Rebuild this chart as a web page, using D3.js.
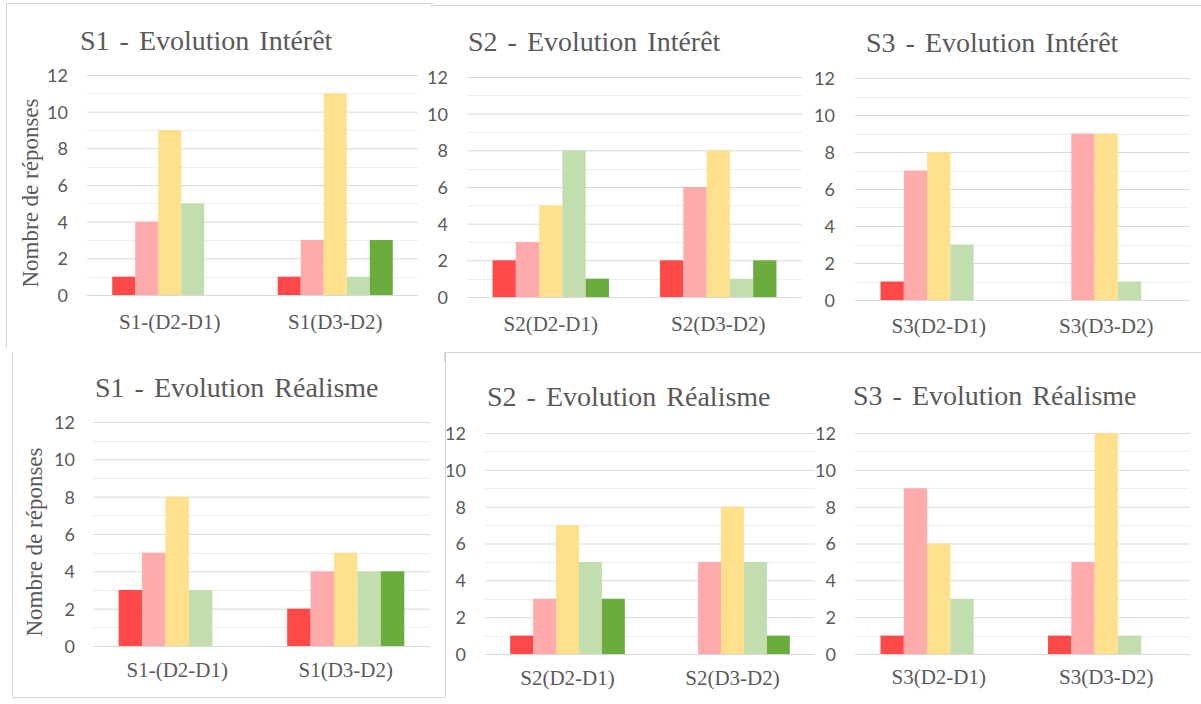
<!DOCTYPE html>
<html>
<head>
<meta charset="utf-8">
<script src="https://cdn.jsdelivr.net/npm/d3@7"></script>
<style>
  html, body { margin: 0; padding: 0; background: #ffffff; }
  svg { display: block; }
  .serif { font-family: "Liberation Serif", "Times New Roman", "DejaVu Serif", serif; }
  .sans { font-family: Lato, "Open Sans", sans-serif; }
</style>
</head>
<body>
<svg id="chart" width="1201" height="704"></svg>
<script>
// ---------- DATA ----------
const seriesNames = ["Série 1", "Série 2", "Série 3", "Série 4", "Série 5"];
const yTicks = [0, 2, 4, 6, 8, 10, 12];
const yMinorTicks = [1, 3, 5, 7, 9, 11];

const titles = [
  "S1 - Evolution Intérêt", "S2 - Evolution Intérêt", "S3 - Evolution Intérêt",
  "S1 - Evolution Réalisme", "S2 - Evolution Réalisme", "S3 - Evolution Réalisme"
];
const categoriesS1 = ["S1-(D2-D1)", "S1(D3-D2)"];
const categoriesS2 = ["S2(D2-D1)", "S2(D3-D2)"];
const categoriesS3 = ["S3(D2-D1)", "S3(D3-D2)"];

// values per category, one entry per series
const s1Interet  = [[1, 4, 9, 5, 0], [1, 3, 11, 1, 3]];
const s2Interet  = [[2, 3, 5, 8, 1], [2, 6, 8, 1, 2]];
const s3Interet  = [[1, 7, 8, 3, 0], [0, 9, 9, 1, 0]];
const s1Realisme = [[3, 5, 8, 3, 0], [2, 4, 5, 4, 4]];
const s2Realisme = [[1, 3, 7, 5, 3], [0, 5, 8, 5, 1]];
const s3Realisme = [[1, 9, 6, 3, 0], [1, 5, 12, 1, 0]];

const yAxisLabel = "Nombre de réponses";

// ---------- STYLE ----------
const seriesColors = ["#FF4848", "#FFABAB", "#FFE08D", "#C2DDAE", "#6AAC3E"];
const textColor = "#595959";

// ---------- LAYOUT ----------
const panels = [
  { title: titles[0], cats: categoriesS1, vals: s1Interet,  left: 87,  right: 418,  top: 75,  bottom: 295, tickX: 68,  titleX: 80,  titleY: 50,  catY: 329, yLabel: { x: 38, y: 193 } },
  { title: titles[1], cats: categoriesS2, vals: s2Interet,  left: 467, right: 802,  top: 77,  bottom: 297, tickX: 448, titleX: 468, titleY: 51,  catY: 331 },
  { title: titles[2], cats: categoriesS3, vals: s3Interet,  left: 855, right: 1190, top: 78,  bottom: 300, tickX: 835, titleX: 866, titleY: 52,  catY: 333 },
  { title: titles[3], cats: categoriesS1, vals: s1Realisme, left: 93,  right: 430,  top: 422, bottom: 646, tickX: 75,  titleX: 95,  titleY: 397, catY: 677, yLabel: { x: 42, y: 542 } },
  { title: titles[4], cats: categoriesS2, vals: s2Realisme, left: 485, right: 815,  top: 433, bottom: 654, tickX: 466, titleX: 487, titleY: 406, catY: 685 },
  { title: titles[5], cats: categoriesS3, vals: s3Realisme, left: 855, right: 1190, top: 433, bottom: 654, tickX: 836, titleX: 853, titleY: 405, catY: 684 }
];

const svg = d3.select("#chart");

// faint frames from the original screenshots
const frameColor = "#D4D4D4";
const frames = svg.append("g").attr("stroke", frameColor).attr("stroke-width", 1).attr("fill", "none");
frames.append("path").attr("d", "M6.5,348 V3.5 H434");
frames.append("path").attr("d", "M430,5.5 H1201");
frames.append("path").attr("d", "M12.5,352 V697.5 H445.5 V352");
frames.append("path").attr("d", "M444.5,362 V352.5 H1201");

panels.forEach(p => {
  const g = svg.append("g");

  const y = d3.scaleLinear().domain([0, 12]).range([p.bottom, p.top]);
  const x0 = d3.scaleBand().domain(p.cats).range([p.left, p.right]).paddingInner(0).paddingOuter(0);
  const groupW = x0.bandwidth() * 0.695;
  const x1 = d3.scaleBand().domain(seriesNames).range([0, groupW]).padding(0);

  // minor gridlines
  g.append("g").selectAll("line").data(yMinorTicks).join("line")
    .attr("x1", p.left).attr("x2", p.right)
    .attr("y1", d => Math.round(y(d)) + 0.5).attr("y2", d => Math.round(y(d)) + 0.5)
    .attr("stroke", "#EDEDED").attr("stroke-width", 1);

  // major gridlines + tick labels via axis
  const axis = d3.axisLeft(y).tickValues(yTicks).tickSize(-(p.right - p.left)).tickPadding(0);
  const ag = g.append("g").attr("transform", `translate(${p.left},0)`).call(axis);
  ag.attr("font-family", null).attr("font-size", null);
  ag.select(".domain").remove();
  ag.selectAll(".tick line").attr("stroke", "#D9D9D9").attr("stroke-width", 1);
  ag.selectAll(".tick text")
    .attr("class", "sans")
    .attr("x", p.tickX - p.left)
    .attr("fill", textColor)
    .attr("font-size", 18)
    .attr("text-anchor", "end")
    .attr("dy", "0.36em");

  // bars
  p.cats.forEach((c, ci) => {
    const gx = x0(c) + (x0.bandwidth() - groupW) / 2;
    g.append("g").attr("transform", `translate(${gx},0)`)
      .selectAll("rect").data(p.vals[ci]).join("rect")
      .attr("x", (d, i) => x1(seriesNames[i]))
      .attr("width", x1.bandwidth())
      .attr("y", d => y(d))
      .attr("height", d => y(0) - y(d))
      .attr("fill", (d, i) => seriesColors[i]);
  });

  // category labels
  g.append("g").selectAll("text").data(p.cats).join("text")
    .attr("class", "serif")
    .attr("x", d => x0(d) + x0.bandwidth() / 2)
    .attr("y", p.catY)
    .attr("text-anchor", "middle")
    .attr("fill", textColor)
    .attr("font-size", 21)
    .text(d => d);

  // title
  g.append("text")
    .attr("class", "serif")
    .attr("x", p.titleX).attr("y", p.titleY)
    .attr("fill", textColor)
    .attr("font-size", 28)
    .attr("word-spacing", 3)
    .text(p.title);

  // y axis label
  if (p.yLabel) {
    g.append("text")
      .attr("class", "serif")
      .attr("transform", `translate(${p.yLabel.x},${p.yLabel.y}) rotate(-90)`)
      .attr("text-anchor", "middle")
      .attr("fill", textColor)
      .attr("font-size", 23)
      .text(yAxisLabel);
  }
});
</script>
</body>
</html>
